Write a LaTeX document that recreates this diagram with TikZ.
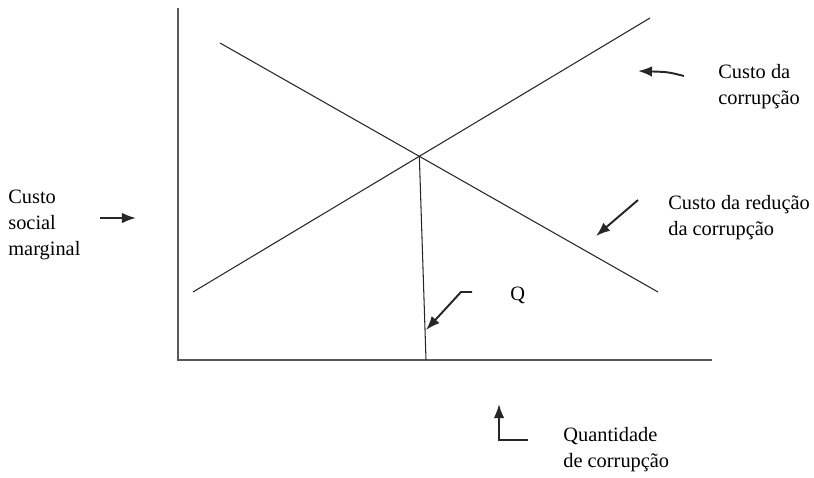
\documentclass[tikz,border=0pt]{standalone}
\usepackage{fontspec}
\setmainfont{Liberation Serif}
\usetikzlibrary{arrows.meta, calc}

\begin{document}
\begin{tikzpicture}[x=0.02cm, y=-0.02cm,
  lbl/.style={anchor=west, align=left, font=\fontsize{11.6}{14.8}\selectfont, inner sep=0pt},
  axis/.style={draw=black!65, line width=1pt},
  curve/.style={draw=black!85, line width=0.6pt},
  arr/.style={-{Latex[length=8pt,width=6pt]}, line width=1.1pt, draw=black!85}]
  \useasboundingbox (0,0) rectangle (814,477);
  % axes
  \coordinate (o) at (178,360);
  \coordinate (ytop) at (178,8);
  \coordinate (xend) at (712,360);
  \draw[axis] (ytop) -- (o) -- (xend);
  % curves
  \coordinate (c1) at (193,292);
  \coordinate (c2) at (650,18);
  \coordinate (r1) at (220,43);
  \coordinate (r2) at (658,292);
  \draw[curve] (c1) -- (c2);
  \draw[curve] (r1) -- (r2);
  \coordinate (eq) at (intersection of c1--c2 and r1--r2);
  \coordinate (qx) at (426,360);
  \draw[curve] (eq) -- (qx);
  % labels
  \node[lbl] (custo) at (718,87) {Custo da\\corrupção};
  \node[lbl] (social) at (8,225) {Custo\\social\\marginal};
  \node[lbl] (reducao) at (668,218) {Custo da redução\\da corrupção};
  \node[lbl] (q) at (510,295) {Q};
  \node[lbl] (quant) at (563,450) {Quantidade\\de corrupção};
  % arrows
  \coordinate (a1s) at (684,76);
  \coordinate (a1e) at (638,71);
  \draw[arr] (a1s) .. controls (668,72) .. (a1e);
  \coordinate (a2s) at (100,218);
  \coordinate (a2e) at (136,218);
  \draw[arr] (a2s) -- (a2e);
  \coordinate (a3s) at (638,200);
  \coordinate (a3e) at (596,236);
  \draw[arr] (a3s) -- (a3e);
  \coordinate (a4s) at (472,292);
  \coordinate (a4e) at (426,330);
  \draw[arr] (a4s) -- (461,292) -- (a4e);
  \coordinate (a5s) at (528,440);
  \coordinate (a5e) at (499,404);
  \draw[arr] (a5s) -- (499,440) -- (a5e);
\end{tikzpicture}
\end{document}
